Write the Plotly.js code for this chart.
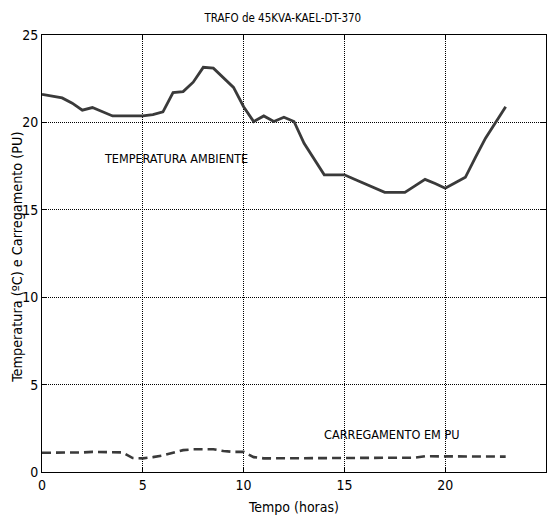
<!DOCTYPE html>
<html>
<head>
<meta charset="utf-8">
<script src="https://cdn.plot.ly/plotly-3.0.1.min.js"></script>
<style>html,body{margin:0;padding:0;background:#fff;}#chart{width:548px;height:517px;}</style>
</head>
<body>
<div id="chart"></div>
<script>
const tempo = [0,0.5,1,1.5,2,2.5,3,3.5,4,4.5,5,5.5,6,6.5,7,7.5,8,8.5,9,9.5,10,10.5,11,11.5,12,12.5,13,13.5,14,14.5,15,15.5,16,16.5,17,17.5,18,18.5,19,19.5,20,20.5,21,21.5,22,22.5,23];
const temperatura = [21.6,21.5,21.4,21.1,20.7,20.85,20.6,20.37,20.37,20.37,20.37,20.45,20.6,21.7,21.76,22.3,23.15,23.1,22.55,22.0,20.9,20.05,20.37,20.05,20.3,20.05,18.8,17.9,17.0,17.0,17.0,16.75,16.5,16.25,16.0,16.0,16.0,16.37,16.74,16.5,16.23,16.55,16.86,18.0,19.1,20.0,20.9];
const carregamento = [1.1,1.1,1.1,1.1,1.12,1.15,1.15,1.15,1.12,0.8,0.78,0.85,0.95,1.1,1.25,1.3,1.3,1.3,1.2,1.15,1.15,0.85,0.78,0.78,0.78,0.78,0.78,0.78,0.78,0.78,0.78,0.78,0.78,0.78,0.78,0.78,0.78,0.82,0.9,0.9,0.9,0.9,0.88,0.88,0.88,0.88,0.88];
const xTicks = [0,5,10,15,20,25];
const yTicks = [0,5,10,15,20,25];
const yTitle = 'Temperatura (ºC) e Carregamento (PU)';

const FONT = '"Liberation Sans Narrow", "DejaVu Sans Condensed", Arial, sans-serif';

const traces = [
  {x: tempo, y: temperatura, type: 'scatter', mode: 'lines',
   line: {color: '#3a3a3a', width: 2.8}, hoverinfo: 'skip'},
  {x: tempo, y: carregamento, type: 'scatter', mode: 'lines',
   line: {color: '#3a3a3a', width: 2.6, dash: '9px,5px'}, hoverinfo: 'skip'}
];

const axisCommon = {
  showline: true, linecolor: '#000', linewidth: 1, mirror: 'ticks',
  ticks: 'inside', ticklen: 5, tickcolor: '#000',
  showgrid: true, gridcolor: '#000', gridwidth: 1, griddash: '1px,1px',
  zeroline: false, tickfont: {family: FONT, size: 14, color: '#000'}
};

const layout = {
  width: 548, height: 517,
  margin: {l: 42, r: 2, t: 35, b: 45},
  paper_bgcolor: '#fff', plot_bgcolor: '#fff',
  showlegend: false,
  font: {family: FONT, color: '#000'},
  title: {text: 'TRAFO de 45KVA-KAEL-DT-370', font: {family: FONT, size: 11.5, color: '#000'},
          x: 0.516, xanchor: 'center', y: 0.965, yanchor: 'middle'},
  xaxis: Object.assign({}, axisCommon, {
    range: [0, 25], tickvals: xTicks, ticktext: xTicks.map(String),
    title: {text: 'Tempo (horas)', font: {family: FONT, size: 14, color: '#000'}, standoff: 10}
  }),
  yaxis: Object.assign({}, axisCommon, {
    range: [0, 25], tickvals: yTicks, ticktext: yTicks.map(String)
  }),
  annotations: [
    {x: -0.0496, y: 0.49, xref: 'paper', yref: 'paper', text: yTitle, showarrow: false, textangle: -90,
     xanchor: 'center', yanchor: 'middle', font: {family: FONT, size: 14.3, color: '#000'}},
    {x: 3.0, y: 17.95, xref: 'x', yref: 'y', text: 'TEMPERATURA AMBIENTE', showarrow: false,
     xanchor: 'left', yanchor: 'middle', font: {family: FONT, size: 12.5, color: '#000'}},
    {x: 13.9, y: 2.12, xref: 'x', yref: 'y', text: 'CARREGAMENTO EM PU', showarrow: false,
     xanchor: 'left', yanchor: 'middle', font: {family: FONT, size: 12.6, color: '#000'}}
  ]
};

Plotly.newPlot('chart', traces, layout, {staticPlot: true, displayModeBar: false});
</script>
</body>
</html>
